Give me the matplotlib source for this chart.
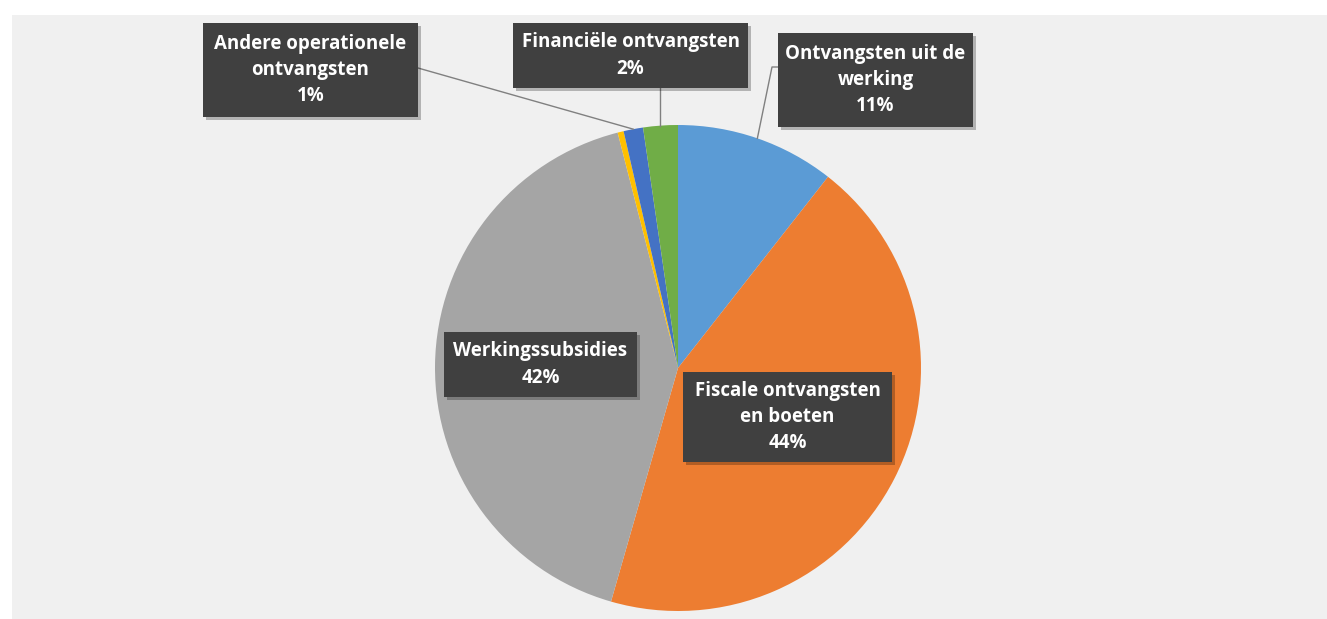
import matplotlib
matplotlib.use("Agg")
import numpy as np
import matplotlib.pyplot as plt
from matplotlib.patches import Rectangle

# data (percent of total revenue)
categories = ["Ontvangsten uit de werking", "Fiscale ontvangsten en boeten",
              "Werkingssubsidies", "Overige", "Andere operationele ontvangsten",
              "Financiële ontvangsten"]
values = [10.6, 43.9, 41.6, 0.4, 1.3, 2.3]
colors = ["#5b9bd5", "#ed7d31", "#a5a5a5", "#ffc000", "#4472c4", "#70ad47"]
label_text = ["Ontvangsten uit de\nwerking", "Fiscale ontvangsten\nen boeten",
              "Werkingssubsidies", None, "Andere operationele\nontvangsten",
              "Financiële ontvangsten"]

W, H = 1327, 619
fig = plt.figure(figsize=(W / 100, H / 100), dpi=100)
fig.patch.set_facecolor("white")
ax = fig.add_axes([0, 0, 1, 1])

# grey chart area
ax.add_patch(Rectangle((12, 0), W - 12, H - 15, facecolor="#f0f0f0", edgecolor="none", zorder=0))

cx, cy, r = 678, H - 368, 243
wedges, _ = ax.pie(values, colors=colors, startangle=90, counterclock=False,
                   center=(cx, cy), radius=r, frame=True,
                   wedgeprops=dict(linewidth=0))
ax.set_xlim(0, W)
ax.set_ylim(0, H)
ax.axis("off")
ax.set_aspect("auto")

total = sum(values)

# box centre (pixel), box size, leader style
boxes = {
    0: dict(c=(875.5, 80), size=(195, 94), leader="left"),
    1: dict(c=(787.5, 417), size=(209, 90), leader=None),
    2: dict(c=(540.5, 364.5), size=(193, 65), leader=None),
    4: dict(c=(310.5, 70), size=(215, 94), leader="right"),
    5: dict(c=(630.5, 55.5), size=(235, 65), leader="bottom"),
}

for i, b in boxes.items():
    w = wedges[i]
    mid = np.deg2rad((w.theta1 + w.theta2) / 2)
    px, py = cx + r * np.cos(mid), cy + r * np.sin(mid)
    bx, by = b["c"][0], H - b["c"][1]
    bw, bh = b["size"]
    # shadow + box
    ax.add_patch(Rectangle((bx - bw / 2 + 3, by - bh / 2 - 3), bw, bh,
                           facecolor="black", alpha=0.25, edgecolor="none", zorder=4))
    ax.add_patch(Rectangle((bx - bw / 2, by - bh / 2), bw, bh,
                           facecolor="#404040", edgecolor="none", zorder=5))
    pct = round(values[i] / total * 100)
    ax.text(bx, by, f"{label_text[i]}\n{pct}%", ha="center", va="center",
            color="white", fontsize=13.5, fontweight="bold", family="Open Sans",
            linespacing=1.42, zorder=6)
    if b["leader"] == "right":
        ax.plot([bx + bw / 2, px], [by + 2, py], color="#808080", lw=1, zorder=3)
    elif b["leader"] == "bottom":
        ax.plot([px, px], [by - bh / 2, py], color="#808080", lw=1, zorder=3)
    elif b["leader"] == "left":
        ax.plot([bx - bw / 2, bx - bw / 2 - 6, px], [by + 13, by + 13, py],
                color="#808080", lw=1, zorder=3)

fig.savefig("out.png", dpi=100)
